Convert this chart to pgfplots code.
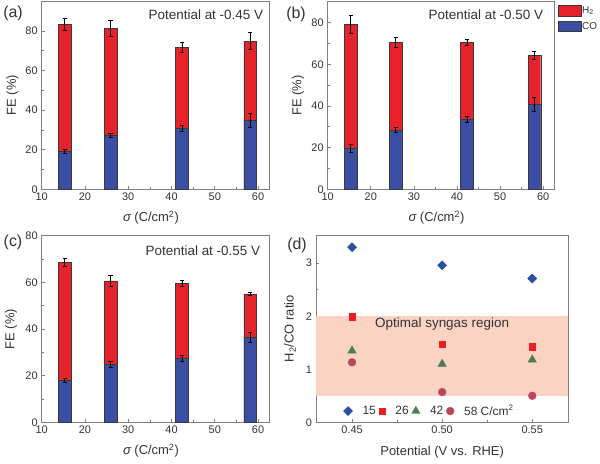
\documentclass[border=0pt]{standalone}
\usepackage{fontspec}
\setmainfont{Liberation Sans}
\usepackage{pgfplots}
\pgfplotsset{compat=1.18}
\definecolor{barred}{HTML}{E8222B}
\definecolor{barblue}{HTML}{3A4EA3}
\definecolor{shade}{HTML}{FAD3C3}
\definecolor{dblue}{HTML}{2B4EA2}
\definecolor{dred}{HTML}{EE1D24}
\definecolor{dgreen}{HTML}{4F7B57}
\definecolor{dcirc}{HTML}{B8475A}
\definecolor{txt}{HTML}{333333}
\definecolor{frame}{HTML}{808080}
\tikzset{ptitle/.style={anchor=north east, font=\fontsize{13.5}{15}\selectfont, text=txt, inner sep=0pt},
  lab/.style={font=\fontsize{13}{15}\selectfont, text=txt, anchor=center}}
\pgfplotsset{
  panel/.style={
    scale only axis,
    axis line style={draw=frame, line width=0.7bp},
    tick style={color=frame, line width=0.6bp},
    major tick length=3bp, minor tick length=2bp,
    tick pos=left, tick align=inside,
    tick label style={font=\fontsize{11}{13}\selectfont, text=txt},
    xticklabel style={yshift=-0.5bp},
    yticklabel style={xshift=-0.5bp},
    /pgf/number format/assume math mode=true,
    every axis x label/.style={at={(axis description cs:0.48,0)}, lab, yshift=-28.5bp},
    every axis y label/.style={at={(axis description cs:-0.128,0.5)}, lab, rotate=90},
  },
  fe/.style={panel, xmin=10, xmax=62.6, ymin=0,
    xtick={10,20,...,60}, minor x tick num=1,
    ytick={0,20,...,80}, minor y tick num=1,
    xlabel={{\itshape σ} (C/cm\textsuperscript{2})}, ylabel={FE (\%)}},
  bars/.style={ybar, bar width=2.9, bar shift=0pt, draw=gray!45!black, line width=0.4bp,
    legend image code/.code={\draw[##1, draw=gray!45!black, line width=0.4bp] (0bp,-5.3bp) rectangle (23bp,5.3bp);},
    error bars/y dir=both, error bars/y explicit,
    error bars/error bar style={line width=0.6bp, black},
    error bars/error mark options={rotate=90, mark size=2bp, line width=0.6bp, black}},
  dmark/.style={only marks,
    legend image code/.code={\draw[##1] plot coordinates {(4bp,0bp)};}},
}
\begin{document}
\begin{tikzpicture}
\useasboundingbox (0,0) rectangle (600bp,464bp);
% (a)
\begin{axis}[fe, at={(41.7bp,274.7bp)}, anchor=south west, width=227.6bp, height=188bp, ymax=95]
\addplot[bars, fill=barred] coordinates {(15.3,83.4) +- (0,3.0) (25.9,81.5) +- (0,4.0) (42.4,71.6) +- (0,2.5) (58.2,74.9) +- (0,4.3)};
\addplot[bars, fill=barblue] coordinates {(15.3,19.0) +- (0,1.0) (25.9,27.3) +- (0,1.0) (42.4,30.7) +- (0,1.5) (58.2,34.9) +- (0,3.5)};
\node[ptitle] at (rel axis cs:1,1) [xshift=-6bp, yshift=-8bp] {Potential at -0.45 V};
\end{axis}
% (b)
\begin{axis}[fe, at={(327.7bp,274.7bp)}, anchor=south west, width=226.6bp, height=187.6bp, ymax=90,
  every axis y label/.style={at={(axis description cs:-0.131,0.5)}, lab, rotate=90},
  legend style={at={(1,1)}, anchor=north west, xshift=3.7bp, yshift=-3.3bp, draw=none, fill=none,
    inner sep=0pt, row sep=4.6bp, font=\fontsize{10}{11}\selectfont, text=txt,
    cells={anchor=west}, nodes={inner sep=0.5bp}}]
\addplot[bars, fill=barred] coordinates {(15.3,79.0) +- (0,4.3) (25.8,70.5) +- (0,2.3) (42.3,70.5) +- (0,1.4) (58.0,64.4) +- (0,2.0)};
\addlegendentry{H\textsubscript{2}}
\addplot[bars, fill=barblue] coordinates {(15.3,19.6) +- (0,1.8) (25.8,28.4) +- (0,1.2) (42.3,33.5) +- (0,1.5) (58.0,40.7) +- (0,3.2)};
\addlegendentry{CO}
\node[ptitle] at (rel axis cs:1,1) [xshift=-11bp, yshift=-8bp] {Potential at -0.50 V};
\end{axis}
% (c)
\begin{axis}[fe, at={(41.7bp,41.7bp)}, anchor=south west, width=227.6bp, height=186.6bp, ymax=80,
  every axis y label/.style={at={(axis description cs:-0.135,0.5)}, lab, rotate=90}]
\addplot[bars, fill=barred] coordinates {(15.3,68.7) +- (0,1.8) (25.9,60.6) +- (0,2.3) (42.4,59.7) +- (0,1.3) (58.2,55.1) +- (0,0.5)};
\addplot[bars, fill=barblue] coordinates {(15.3,18.1) +- (0,0.8) (25.9,24.9) +- (0,1.3) (42.4,27.4) +- (0,1.2) (58.2,36.4) +- (0,2.0)};
\node[ptitle] at (rel axis cs:1,1) [xshift=-9bp, yshift=-10bp] {Potential at -0.55 V};
\end{axis}
% (d)
\begin{axis}[panel, at={(316bp,41.7bp)}, anchor=south west, width=252.3bp, height=187.3bp,
  xmin=0.43, xmax=0.57, ymin=0, ymax=3.53,
  xtick={0.45,0.5,0.55}, minor x tick num=1, ytick={0,1,2,3}, minor y tick num=1,
  xticklabel style={/pgf/number format/.cd, fixed, fixed zerofill, precision=2},
  xlabel={Potential (V vs. RHE)}, ylabel={H\textsubscript{2}/CO ratio},
  every axis x label/.style={at={(axis description cs:0.5,0)}, lab, yshift=-29.4bp},
  every axis y label/.style={at={(axis description cs:-0.103,0.5)}, lab, rotate=90},
  legend columns=-1,
  legend style={at={(0.45,0.06)}, anchor=center, draw=none, fill=none,
    font=\fontsize{12}{13}\selectfont, text=txt,
    /tikz/every even column/.append style={column sep=1bp},
    /tikz/every odd column/.append style={column sep=8bp}}]
\addplot[fill=shade, draw=none, forget plot] coordinates {(0.43,0.5) (0.57,0.5) (0.57,2.0) (0.43,2.0)} -- cycle;
\node[font=\fontsize{13.5}{15}\selectfont, text=txt] at (axis cs:0.5,1.85) {Optimal syngas region};
\addplot[dmark, mark=square*, mark options={rotate=45}, mark size=3.2bp, color=dblue] coordinates {(0.45,3.30) (0.50,2.96) (0.55,2.71)};
\addlegendentry{15}
\addplot[dmark, mark=square*, mark size=3.3bp, color=dred] coordinates {(0.45,1.99) (0.50,1.47) (0.55,1.42)};
\addlegendentry{26}
\addplot[dmark, mark=triangle*, mark size=4.8bp, color=dgreen] coordinates {(0.45,1.35) (0.50,1.10) (0.55,1.18)};
\addlegendentry{42}
\addplot[dmark, mark=*, mark size=3.9bp, color=dcirc] coordinates {(0.45,1.13) (0.50,0.57) (0.55,0.50)};
\addlegendentry{58 C/cm\textsuperscript{2}}
\end{axis}
\node[font=\fontsize{16}{18}\selectfont, text=txt] at (13bp,451bp) {(a)};
\node[font=\fontsize{16}{18}\selectfont, text=txt] at (296bp,450bp) {(b)};
\node[font=\fontsize{16}{18}\selectfont, text=txt] at (13bp,222bp) {(c)};
\node[font=\fontsize{16}{18}\selectfont, text=txt] at (297bp,219bp) {(d)};
\end{tikzpicture}
\end{document}
